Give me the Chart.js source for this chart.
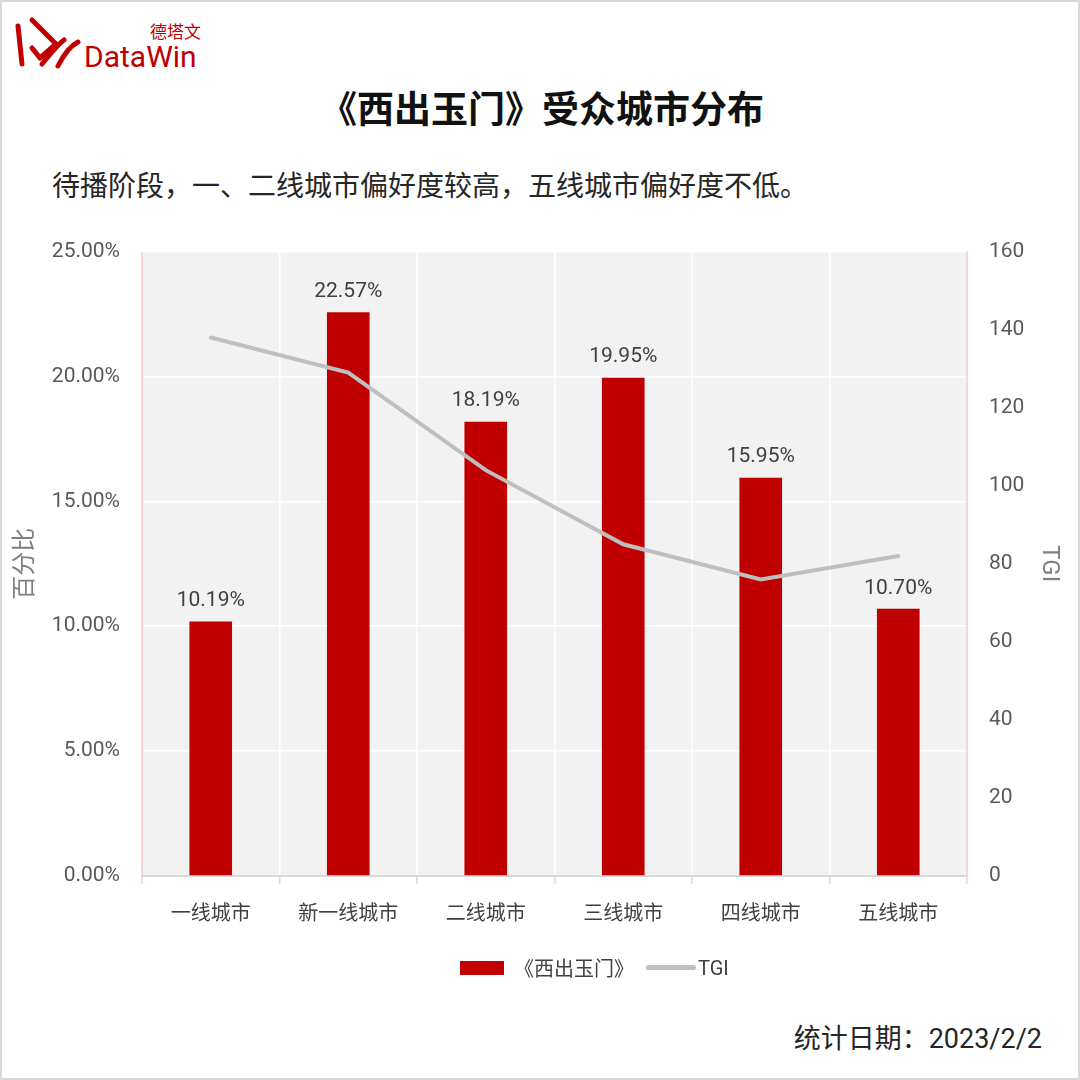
<!DOCTYPE html>
<html>
<head>
<meta charset="utf-8">
<script src="https://cdn.jsdelivr.net/npm/chart.js@4"></script>
<style>
  html, body { margin: 0; padding: 0; background: #fff; }
  #page {
    position: relative; width: 1080px; height: 1080px; overflow: hidden;
    box-sizing: border-box; border: 2px solid #d9d9d9; background: #fff;
    font-family: "Noto Sans CJK SC", "Noto Sans", sans-serif;
  }
  #logo { position: absolute; left: 10px; top: 12px; }
  #title {
    position: absolute; left: 0; width: 1080px; top: 78px; text-align: center;
    font-size: 37px; font-weight: bold; color: #111;
  }
  #subtitle {
    position: absolute; left: 50px; top: 162px; font-size: 28px; color: #262626;
  }
  #chartBox { position: absolute; left: 0; top: 215px; width: 1065px; height: 753px; }
  #legend {
    position: absolute; top: 951px; left: 458px; display: flex;
    align-items: center; font-size: 20px; color: #404040;
    font-family: Roboto, "Noto Sans CJK SC", sans-serif;
  }
  #footer {
    position: absolute; right: 36px; top: 1015px; font-size: 27px; color: #262626;
    font-family: Roboto, "Noto Sans CJK SC", sans-serif;
  }
</style>
</head>
<body>
<div id="page">
  <svg id="logo" width="200" height="60" viewBox="0 0 200 60">
    <g fill="none" stroke="#c00000" stroke-width="5" stroke-linecap="round" stroke-linejoin="round">
      <path d="M6 12 L10 50"/>
      <path d="M20 6 L44 30 L28 44 L20 34"/>
      <path d="M30 50 C40 38 46 30 52 26"/>
      <path d="M46 52 C52 40 58 32 66 28"/>
    </g>
    <text x="138" y="24" font-size="17" fill="#c00000" font-family="Noto Sans CJK SC">德塔文</text>
    <text x="72" y="53" font-size="30" fill="#c00000" font-family="Roboto, sans-serif">DataWin</text>
  </svg>
  <div id="title">《西出玉门》受众城市分布</div>
  <div id="subtitle">待播阶段，一、二线城市偏好度较高，五线城市偏好度不低。</div>
  <div id="chartBox"><canvas id="cityChart"></canvas></div>
  <div id="legend">
    <span style="display:inline-block;width:44px;height:14px;background:#c00000;margin-right:10px"></span>
    <span>《西出玉门》</span>
    <span style="display:inline-block;width:50px;height:5px;border-radius:3px;background:#bfbfbf;margin:0 2px 0 12px"></span>
    <span>TGI</span>
  </div>
  <div id="footer">统计日期：2023/2/2</div>
</div>

<script>
// ---------------- Data ----------------
const cities = ["一线城市", "新一线城市", "二线城市", "三线城市", "四线城市", "五线城市"];
const shareValues = [10.19, 22.57, 18.19, 19.95, 15.95, 10.70];
const tgiValues = [138, 129, 104, 85, 76, 82];
const seriesName = "《西出玉门》";

// ---------------- Plugins ----------------
const plotBackground = {
  id: "plotBackground",
  beforeDraw(chart) {
    const { ctx, chartArea: a } = chart;
    ctx.save();
    ctx.fillStyle = "#f2f2f2";
    ctx.fillRect(a.left, a.top, a.right - a.left, a.bottom - a.top);
    ctx.restore();
  },
  afterDatasetsDraw(chart) {
    const { ctx, chartArea: a } = chart;
    ctx.save();
    ctx.strokeStyle = "#f8c8c8";
    ctx.lineWidth = 1.5;
    ctx.beginPath();
    ctx.moveTo(a.left, a.top); ctx.lineTo(a.left, a.bottom);
    ctx.moveTo(a.right, a.top); ctx.lineTo(a.right, a.bottom);
    ctx.stroke();
    ctx.restore();
  }
};

const barLabels = {
  id: "barLabels",
  afterDatasetsDraw(chart) {
    const { ctx } = chart;
    const meta = chart.getDatasetMeta(1);
    ctx.save();
    ctx.fillStyle = "#404040";
    ctx.font = '21px Roboto, "Noto Sans", sans-serif';
    ctx.textAlign = "center";
    ctx.textBaseline = "bottom";
    meta.data.forEach((bar, i) => {
      ctx.fillText(shareValues[i].toFixed(2) + "%", bar.x, bar.y - 10);
    });
    ctx.restore();
  }
};

// ---------------- Chart ----------------
const tickFont = { family: 'Roboto, "Noto Sans CJK SC", sans-serif', size: 21 };

new Chart(document.getElementById("cityChart"), {
  data: {
    labels: cities,
    datasets: [
      {
        type: "line",
        label: "TGI",
        data: tgiValues,
        yAxisID: "y1",
        borderColor: "#bfbfbf",
        borderWidth: 4,
        borderCapStyle: "round",
        pointRadius: 0,
        tension: 0,
        order: 0
      },
      {
        type: "bar",
        label: seriesName,
        data: shareValues,
        yAxisID: "y",
        backgroundColor: "#c00000",
        categoryPercentage: 1,
        barPercentage: 0.31,
        order: 1
      }
    ]
  },
  options: {
    responsive: true,
    maintainAspectRatio: false,
    animation: false,
    layout: { padding: { top: 5, bottom: 30 } },
    plugins: {
      legend: { display: false },
      tooltip: { enabled: false }
    },
    scales: {
      x: {
        grid: { color: "#ffffff", lineWidth: 1.5, tickColor: "#d9d9d9", tickLength: 8, offset: true },
        border: { color: "#d9d9d9", width: 2 },
        ticks: { color: "#404040", font: { family: '"Noto Sans CJK SC", sans-serif', size: 20 }, padding: 16 }
      },
      y: {
        position: "left",
        min: 0, max: 25,
        ticks: {
          stepSize: 5, color: "#595959", font: tickFont, padding: 22,
          callback: v => v.toFixed(2) + "%"
        },
        grid: { color: "#ffffff", lineWidth: 1.5, drawTicks: false },
        border: { display: false },
        title: { display: true, text: "百分比", color: "#7f7f7f",
          font: { family: '"Noto Sans CJK SC", sans-serif', size: 24 }, padding: { top: 6, bottom: 0 } },
        afterFit: s => { s.width = 140; }
      },
      y1: {
        position: "right",
        min: 0, max: 160,
        ticks: { stepSize: 20, color: "#595959", font: tickFont, padding: 22 },
        grid: { display: false, drawTicks: false },
        border: { display: false },
        title: { display: true, text: "TGI", color: "#7f7f7f",
          font: { family: 'Roboto, sans-serif', size: 24 } },
        afterFit: s => { s.width = 100; }
      }
    }
  },
  plugins: [plotBackground, barLabels]
});
</script>
</body>
</html>
